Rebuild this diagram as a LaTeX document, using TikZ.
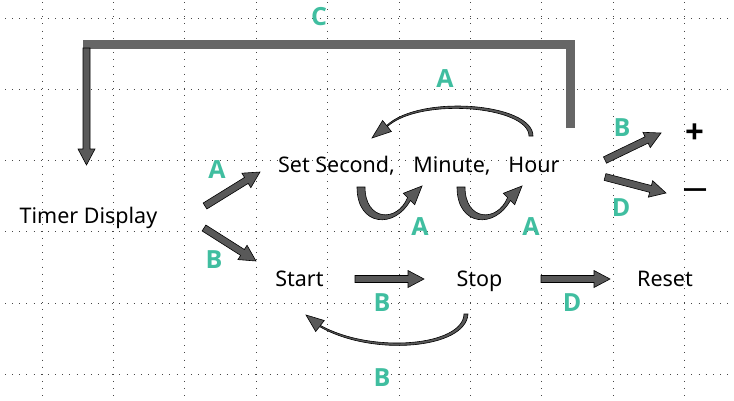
\documentclass[tikz,border=0pt]{standalone}
\usepackage{fontspec}
\setmainfont{Noto Sans}
\newfontfamily\lblfont{Open Sans}
\newfontfamily\symfont{Open Sans}
\usetikzlibrary{calc}
\definecolor{teal1}{RGB}{64,190,160}
\definecolor{arrgray}{RGB}{89,89,89}
\definecolor{bargray}{RGB}{102,102,102}
\definecolor{gridc}{RGB}{70,70,70}
\tikzset{
  gridline/.style={gridc, line width=0.9pt, dash pattern=on 0.9pt off 6.25pt},
  blockarr/.style={draw=black, fill=arrgray, line width=0.6pt, line join=miter},
  curvearr/.style={draw=black, fill=arrgray, line width=0.6pt, line join=miter},
  cbar/.style={bargray, line width=9pt, line join=miter},
  txt/.style={inner sep=0pt, anchor=base, font=\fontsize{21.5}{25}\selectfont},
  lbl/.style={inner sep=0pt, text=teal1, font=\fontsize{25}{29}\selectfont\lblfont\bfseries},
}
\newcommand\blockarrow[2]{%
  \path let \p1=(#1), \p2=(#2) in \pgfextra{%
    \pgfmathsetmacro\baangtmp{atan2(\y2-\y1,\x2-\x1)}%
    \pgfmathsetmacro\balentmp{veclen(\x2-\x1,\y2-\y1)}%
    \xdef\baang{\baangtmp}\xdef\balen{\balentmp}\xdef\bax{\x1}\xdef\bay{\y1}};%
  \draw[blockarr,shift={(\bax,\bay)},rotate=\baang]
    (0pt,-3.5pt) -- ({\balen pt-16pt},-3.5pt) -- ({\balen pt-16pt},-8.5pt) -- (\balen pt,0pt)
    -- ({\balen pt-16pt},8.5pt) -- ({\balen pt-16pt},3.5pt) -- (0pt,3.5pt) -- cycle;}
\begin{document}
\begin{tikzpicture}[x=1pt,y=-1pt]
\useasboundingbox (0,0) rectangle (734,400);
\fill[white] (0,0) rectangle (734,400);
% grid
\foreach \i in {0,...,9} \draw[gridline] ({42+71.4*\i},2) -- ({42+71.4*\i},400);
\foreach \j in {0,...,5} \draw[gridline] (5,{18+71.3*\j}) -- (734,{18+71.3*\j});
% texts
\node[txt] (timer) at (88.5,223) {Timer Display};
\node[txt] (sec) at (336.5,172) {Set Second,};
\node[txt] (min) at (452,172) {Minute,};
\node[txt] (hour) at (534,172) {Hour};
\node[txt] (start) at (299.5,286) {Start};
\node[txt] (stop) at (479.5,286) {Stop};
\node[txt] (reset) at (665,286) {Reset};
\node[inner sep=0pt, font=\fontsize{33}{37}\selectfont\symfont\bfseries] (plus) at (694.5,134) {+};
\node[inner sep=0pt, font=\fontsize{24}{28}\selectfont\symfont\bfseries] (minus) at (695,193) {—};
% C connector
\coordinate (cS) at (570.5,128);
\coordinate (cTR) at (570.5,44.5);
\coordinate (cTL) at (83,44.5);
\draw[cbar] (cS) -- (cTR) -- (cTL);
\coordinate (cdA) at (86.5,48);
\coordinate (cdB) at (86.5,165);
\blockarrow{cdA}{cdB}
% straight block arrows
\coordinate (tA1) at (205,206); \coordinate (tA2) at (260,172);
\coordinate (tB1) at (204,228); \coordinate (tB2) at (256,261);
\coordinate (ss1) at (355,279); \coordinate (ss2) at (424,279);
\coordinate (sr1) at (541,279); \coordinate (sr2) at (610,279);
\coordinate (hp1) at (605,160); \coordinate (hp2) at (661,133);
\coordinate (hm1) at (605,177); \coordinate (hm2) at (666,193);
\blockarrow{tA1}{tA2}
\blockarrow{tB1}{tB2}
\blockarrow{ss1}{ss2}
\blockarrow{sr1}{sr2}
\blockarrow{hp1}{hp2}
\blockarrow{hm1}{hm2}
% curved arrows
\filldraw[curvearr] (533,136) .. controls (533,103) and (420,94) .. (386.6,125.5) -- (382.6,120.5) -- (372,138) -- (391.4,131.5) -- (387.4,126.5) .. controls (420,97) and (528.5,106) .. (529,136) -- cycle;
\filldraw[curvearr] (468,314) .. controls (466,349) and (372,357) .. (319.6,326.6) -- (315.7,331.5) -- (306,315) -- (324.3,320.5) -- (320.4,325.4) .. controls (372,354) and (463,346) .. (464,314) -- cycle;
\coordinate (loopA) at (361,187);
\coordinate (loopB) at (461,187);
\foreach \c in {loopA,loopB}{
  \begin{scope}[shift={(\c)}]
  \filldraw[curvearr] (-4,0) .. controls (-4,40) and (34,42) .. (49.4,13.4) -- (53.7,17.7) -- (61,-1) -- (42.3,6.3) -- (46.6,10.6) .. controls (36,36) and (4,34) .. (4,0) -- cycle;
  \end{scope}
}
% labels
\node[lbl] (lC) at (319,17) {C};
\node[lbl] (lAtop) at (445,79) {A};
\node[lbl] (lAleft) at (217,170) {A};
\node[lbl] (lBleft) at (214,260) {B};
\node[lbl] (lA1) at (420,227) {A};
\node[lbl] (lA2) at (531,227) {A};
\node[lbl] (lBr) at (622,128) {B};
\node[lbl] (lDr) at (621,208) {D};
\node[lbl] (lBm) at (382,303) {B};
\node[lbl] (lDm) at (572,303) {D};
\node[lbl] (lBb) at (382,378) {B};
\end{tikzpicture}
\end{document}
